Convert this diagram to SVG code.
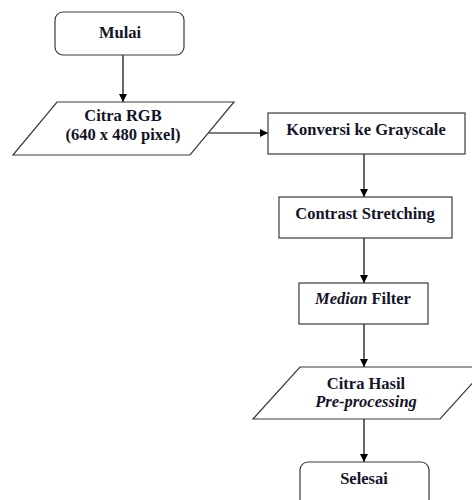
<svg xmlns="http://www.w3.org/2000/svg" width="472" height="500" viewBox="0 0 472 500">
  <defs>
    <marker id="arrow" viewBox="0 0 10 10" refX="10" refY="5" markerWidth="8" markerHeight="8" markerUnits="userSpaceOnUse" orient="auto">
      <path d="M0,0 L10,5 L0,10 Z" fill="#000"/>
    </marker>
  </defs>
  <style>
    .shape { fill: #fff; stroke: #3a3a3a; stroke-width: 1.2; }
    .label { font-family: "Liberation Serif", "Times New Roman", serif; font-weight: bold; font-size: 16.5px; fill: #141428; text-anchor: middle; }
    .it { font-style: italic; }
    .conn { stroke: #000; stroke-width: 1.2; fill: none; marker-end: url(#arrow); }
  </style>
  <rect width="472" height="500" fill="#fff"/>

  <g id="connectors">
    <line class="conn" x1="123" y1="55" x2="123" y2="102"/>
    <line class="conn" x1="209" y1="133" x2="268" y2="133"/>
    <line class="conn" x1="364" y1="154" x2="364" y2="197"/>
    <line class="conn" x1="364" y1="238" x2="364" y2="283"/>
    <line class="conn" x1="364" y1="324" x2="364" y2="367"/>
    <line class="conn" x1="364" y1="419" x2="364" y2="462"/>
  </g>

  <g id="mulai">
    <rect class="shape" x="55" y="12" width="129" height="43" rx="8"/>
    <text class="label" x="120" y="38">Mulai</text>
  </g>

  <g id="citra-rgb">
    <polygon class="shape" points="57,102 234,102 190,155 13,155"/>
    <text class="label" x="123" y="121">Citra RGB</text>
    <text class="label" x="123" y="140">(640 x 480 pixel)</text>
  </g>

  <g id="konversi">
    <rect class="shape" x="268" y="113" width="197" height="41"/>
    <text class="label" x="366" y="135">Konversi ke Grayscale</text>
  </g>

  <g id="contrast">
    <rect class="shape" x="279" y="197" width="173" height="41"/>
    <text class="label" x="365" y="219">Contrast Stretching</text>
  </g>

  <g id="median">
    <rect class="shape" x="299" y="283" width="129" height="41"/>
    <text class="label" x="363" y="304"><tspan class="it">Median</tspan> Filter</text>
  </g>

  <g id="citra-hasil">
    <polygon class="shape" points="300,367 487,367 440,419 253,419"/>
    <text class="label" x="366" y="389">Citra Hasil</text>
    <text class="label it" x="366" y="407">Pre-processing</text>
  </g>

  <g id="selesai">
    <rect class="shape" x="300" y="462" width="129" height="50" rx="8"/>
    <text class="label" x="364" y="484">Selesai</text>
  </g>
</svg>
